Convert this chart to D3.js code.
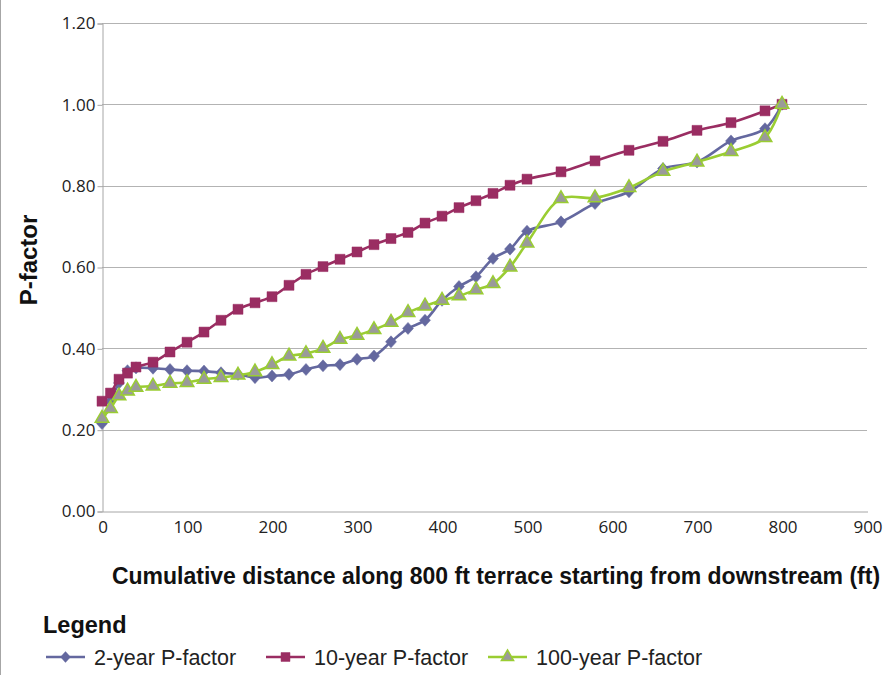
<!DOCTYPE html>
<html>
<head>
<meta charset="utf-8">
<script src="https://cdn.jsdelivr.net/npm/d3@7"></script>
<style>
  html, body { margin: 0; padding: 0; background: #fff; }
  svg { display: block; }
</style>
</head>
<body>
<svg id="chart" width="886" height="675"></svg>
<script>
// ---- data ----
const distances = [0, 10, 20, 30, 40, 60, 80, 100, 120, 140, 160, 180, 200, 220, 240, 260, 280, 300,
  320, 340, 360, 380, 400, 420, 440, 460, 480, 500, 540, 580, 620, 660, 700, 740, 780, 800];
const p2 = [0.215, 0.270, 0.315, 0.345, 0.352, 0.351, 0.348, 0.345, 0.344, 0.340, 0.336, 0.328, 0.332,
  0.336, 0.348, 0.357, 0.360, 0.373, 0.381, 0.416, 0.449, 0.469, 0.518, 0.552, 0.576, 0.621, 0.644,
  0.688, 0.711, 0.756, 0.785, 0.842, 0.858, 0.910, 0.940, 1.00];
const p10 = [0.270, 0.290, 0.324, 0.339, 0.354, 0.366, 0.391, 0.415, 0.440, 0.469, 0.496, 0.512, 0.527,
  0.555, 0.582, 0.601, 0.619, 0.637, 0.655, 0.670, 0.685, 0.708, 0.725, 0.746, 0.763, 0.781, 0.801,
  0.816, 0.834, 0.861, 0.887, 0.909, 0.936, 0.955, 0.984, 1.00];
const p100 = [0.228, 0.252, 0.283, 0.295, 0.304, 0.307, 0.314, 0.316, 0.324, 0.328, 0.334, 0.342, 0.360,
  0.381, 0.387, 0.400, 0.422, 0.432, 0.446, 0.464, 0.488, 0.504, 0.518, 0.529, 0.544, 0.559, 0.600,
  0.659, 0.768, 0.770, 0.795, 0.835, 0.858, 0.884, 0.918, 1.00];
const xTicks = [0, 100, 200, 300, 400, 500, 600, 700, 800, 900];
const yTicks = [0, 0.2, 0.4, 0.6, 0.8, 1.0, 1.2];
const seriesNames = ["2-year P-factor", "10-year P-factor", "100-year P-factor"];

// ---- drawing ----
const svg = d3.select("#chart");
const x = d3.scaleLinear().domain([0, 900]).range([102, 867]);
const y = d3.scaleLinear().domain([0, 1.2]).range([511, 23]);

const tickFont = "'Open Sans', 'Liberation Sans', Arial, sans-serif";
const boldFont = "'Liberation Sans', Arial, sans-serif";

// custom wide diamond
const wideDiamond = {
  draw(ctx, size) {
    const r = Math.sqrt(size / 2);
    ctx.moveTo(0, -r * 1.1);
    ctx.lineTo(r, 0);
    ctx.lineTo(0, r * 1.1);
    ctx.lineTo(-r, 0);
    ctx.closePath();
  }
};

// left frame line
svg.append("line").attr("x1", 0.5).attr("x2", 0.5).attr("y1", 0).attr("y2", 675)
  .attr("stroke", "#a6a6a6").attr("stroke-width", 1);

// gridlines
svg.append("g").selectAll("line").data(yTicks.filter(d => d > 0)).join("line")
  .attr("x1", x(0)).attr("x2", x(900))
  .attr("y1", d => Math.round(y(d)) + 0.5).attr("y2", d => Math.round(y(d)) + 0.5)
  .attr("stroke", "#b3b3b3").attr("stroke-width", 1);

// y axis
const yAxis = d3.axisLeft(y).tickValues(yTicks).tickFormat(d3.format(".2f")).tickSize(5).tickPadding(2);
const gy = svg.append("g").attr("transform", `translate(${Math.round(x(0)) + 0.5},0.5)`).call(yAxis);
gy.select(".domain").attr("stroke", "#a6a6a6");
gy.selectAll(".tick line").attr("stroke", "#a6a6a6");
gy.selectAll(".tick text").attr("font-family", tickFont).attr("font-size", 17).attr("fill", "#222");

// x axis
const xAxis = d3.axisBottom(x).tickValues(xTicks).tickFormat(d3.format("d")).tickSize(0).tickPadding(9);
const gx = svg.append("g").attr("transform", `translate(0.5,${Math.round(y(0)) + 0.5})`).call(xAxis);
gx.select(".domain").attr("stroke", "#a6a6a6");
gx.selectAll(".tick text").attr("font-family", tickFont).attr("font-size", 17).attr("fill", "#222");

// axis titles
svg.append("text").attr("transform", "translate(37,260) rotate(-90)")
  .attr("text-anchor", "middle").attr("font-family", boldFont).attr("font-weight", "bold")
  .attr("font-size", 24).attr("fill", "#111").text("P-factor");
svg.append("text").attr("x", 496).attr("y", 584)
  .attr("text-anchor", "middle").attr("font-family", boldFont).attr("font-weight", "bold")
  .attr("font-size", 23).attr("fill", "#111")
  .text("Cumulative distance along 800 ft terrace starting from downstream (ft)");

// series
const styles = [
  { values: p2, color: "#64689f", marker: wideDiamond, size: 60, fill: "#64689f", stroke: "#64689f", sw: 0.5 },
  { values: p10, color: "#9a2d62", marker: d3.symbolSquare, size: 100, fill: "#9a2d62", stroke: "#9a2d62", sw: 0.5 },
  { values: p100, color: "#9acd32", marker: d3.symbolTriangle, size: 80, fill: "#9a9a9a", stroke: "#9acd32", sw: 1.5 }
];

const line = d3.line().x(d => x(d[0])).y(d => y(d[1])).curve(d3.curveCatmullRom.alpha(0.5));

styles.forEach(s => {
  const pts = distances.map((d, i) => [d, s.values[i]]);
  const g = svg.append("g");
  g.append("path").attr("d", line(pts)).attr("fill", "none")
    .attr("stroke", s.color).attr("stroke-width", 2.6).attr("stroke-linejoin", "round");
  g.selectAll("path.m").data(pts).join("path").attr("class", "m")
    .attr("transform", d => `translate(${x(d[0])},${y(d[1])})`)
    .attr("d", d3.symbol().type(s.marker).size(s.size))
    .attr("fill", s.fill).attr("stroke", s.stroke).attr("stroke-width", s.sw);
});

// legend
svg.append("text").attr("x", 43).attr("y", 633)
  .attr("font-family", boldFont).attr("font-weight", "bold").attr("font-size", 23.5).attr("fill", "#111")
  .text("Legend");

const legendX = [46, 266, 488];
const lg = svg.append("g");
styles.forEach((s, i) => {
  const x0 = legendX[i], yy = 657;
  lg.append("line").attr("x1", x0).attr("x2", x0 + 39).attr("y1", yy).attr("y2", yy)
    .attr("stroke", s.color).attr("stroke-width", 2.6);
  lg.append("path").attr("transform", `translate(${x0 + 19.5},${yy})`)
    .attr("d", d3.symbol().type(s.marker).size(s.size * 0.8))
    .attr("fill", s.fill).attr("stroke", s.stroke).attr("stroke-width", s.sw);
  lg.append("text").attr("x", x0 + 48).attr("y", yy + 7.5)
    .attr("font-family", "'Liberation Sans', Arial, sans-serif").attr("font-size", 21.5).attr("fill", "#222")
    .text(seriesNames[i]);
});
</script>
</body>
</html>
